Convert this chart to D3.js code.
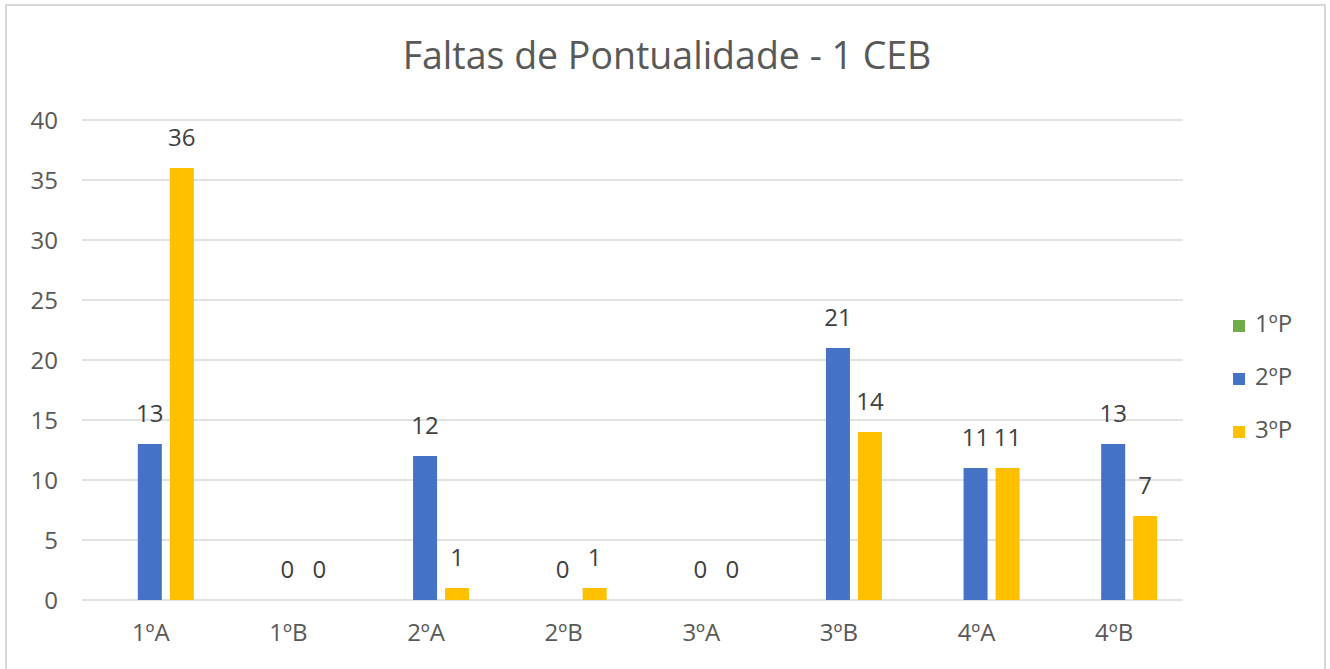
<!DOCTYPE html>
<html>
<head>
<meta charset="utf-8">
<script src="https://cdn.jsdelivr.net/npm/d3@7"></script>
<style>
  body { margin: 0; background: #fff; }
  svg { display: block; font-family: "Open Sans", sans-serif; }
</style>
</head>
<body>
<div id="chart"></div>
<script>
const categories = ["1ºA", "1ºB", "2ºA", "2ºB", "3ºA", "3ºB", "4ºA", "4ºB"];
const seriesNames = ["1ºP", "2ºP", "3ºP"];
const p1 = [null, null, null, null, null, null, null, null];
const p2 = [13, 0, 12, 0, 0, 21, 11, 13];
const p3 = [36, 0, 1, 1, 0, 14, 11, 7];
const yTicks = [0, 5, 10, 15, 20, 25, 30, 35, 40];
const colors = ["#70AD47", "#4472C4", "#FFC000"];

const width = 1330, height = 669;
const margin = {left: 82, right: 147, top: 120, bottom: 69};

const svg = d3.select("#chart")
  .append("svg")
  .attr("width", width)
  .attr("height", height);

svg.append("rect")
  .attr("x", 6).attr("y", 5)
  .attr("width", 1319).attr("height", 670)
  .attr("fill", "#fff")
  .attr("stroke", "#d9d9d9")
  .attr("stroke-width", 2);

svg.append("text")
  .attr("x", 667).attr("y", 59)
  .attr("text-anchor", "middle")
  .attr("dominant-baseline", "middle")
  .attr("fill", "#595959")
  .style("font-size", "37.5px")
  .text("Faltas de Pontualidade - 1 CEB");

const x0 = d3.scaleBand()
  .domain(categories)
  .range([margin.left, width - margin.right])
  .padding(0);

const step = x0.bandwidth();
const groupW = 88;
const x1 = d3.scaleBand()
  .domain(seriesNames)
  .range([(step - groupW) / 2 - 1, (step + groupW) / 2 - 1])
  .paddingInner(0.25)
  .paddingOuter(0);

const y = d3.scaleLinear()
  .domain([0, 40])
  .range([height - margin.bottom, margin.top]);

// gridlines
svg.append("g")
  .selectAll("line")
  .data(yTicks)
  .join("line")
  .attr("x1", margin.left)
  .attr("x2", width - margin.right)
  .attr("y1", d => y(d))
  .attr("y2", d => y(d))
  .attr("stroke", "#d9d9d9")
  .attr("stroke-width", 1.5);

// y axis labels
const yAxis = d3.axisLeft(y).tickValues(yTicks).tickSize(0).tickPadding(0);
svg.append("g")
  .attr("transform", `translate(${margin.left - 24},0)`)
  .call(yAxis)
  .call(g => g.select(".domain").remove())
  .call(g => g.selectAll("text")
    .attr("fill", "#595959")
    .style("font-size", "24px")
    .style("font-family", "Open Sans, sans-serif")
    .attr("dy", "0.35em"));

// x axis labels
const xAxis = d3.axisBottom(x0).tickSize(0).tickPadding(0);
svg.append("g")
  .attr("transform", `translate(0,${y(0) + 24})`)
  .call(xAxis)
  .call(g => g.select(".domain").remove())
  .call(g => g.selectAll("text")
    .attr("fill", "#595959")
    .style("font-size", "24px")
    .style("font-family", "Open Sans, sans-serif")
    .attr("dy", "0.71em"));

const series = [p1, p2, p3];
const rows = [];
series.forEach((vals, si) => {
  vals.forEach((v, ci) => {
    if (v !== null) rows.push({cat: categories[ci], s: seriesNames[si], v: v, color: colors[si]});
  });
});

svg.append("g")
  .selectAll("rect")
  .data(rows.filter(d => d.v > 0))
  .join("rect")
  .attr("x", d => x0(d.cat) + x1(d.s))
  .attr("y", d => y(d.v))
  .attr("width", x1.bandwidth())
  .attr("height", d => y(0) - y(d.v))
  .attr("fill", d => d.color);

svg.append("g")
  .selectAll("text")
  .data(rows)
  .join("text")
  .attr("x", d => x0(d.cat) + x1(d.s) + x1.bandwidth() / 2)
  .attr("y", d => y(d.v) - 28)
  .attr("text-anchor", "middle")
  .attr("dominant-baseline", "middle")
  .attr("fill", "#404040")
  .style("font-size", "24px")
  .text(d => d.v);

// legend
const legend = svg.append("g")
  .selectAll("g")
  .data(seriesNames)
  .join("g")
  .attr("transform", (d, i) => `translate(1233,${326 + i * 53})`);

legend.append("rect")
  .attr("x", 0).attr("y", -6)
  .attr("width", 12).attr("height", 12)
  .attr("fill", (d, i) => colors[i]);

legend.append("text")
  .attr("x", 22).attr("y", 0)
  .attr("dominant-baseline", "middle")
  .attr("fill", "#595959")
  .style("font-size", "24px")
  .text(d => d);
</script>
</body>
</html>
